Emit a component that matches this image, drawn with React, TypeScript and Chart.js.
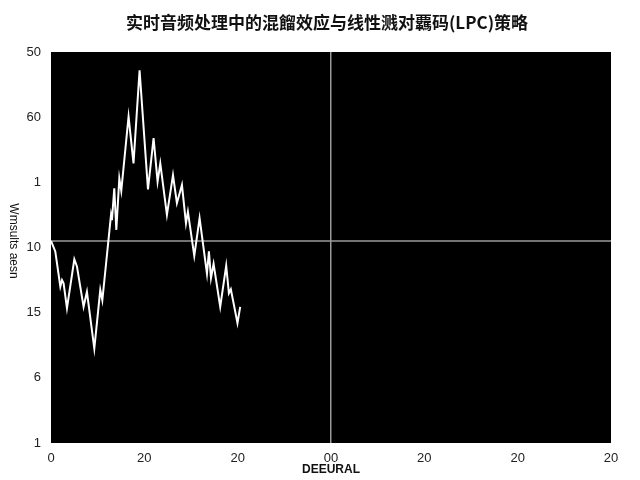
import { useEffect, useRef } from "react";
import { Chart, registerables } from "chart.js";

Chart.register(...registerables);

const chartTitle = "实时音频处理中的混餾效应与线性溅对覊码(LPC)策略";
const xAxisTitle = "DEEURAL";
const yAxisTitle = "Wmsults aesn";

// tick labels as printed, left to right / bottom to top
const xTickLabels = ["0", "20", "20", "00", "20", "20", "20"];
const yTickLabels = ["1", "6", "15", "10", "1", "60", "50"];

// signal trace
const signalX = [
  0, 0.46, 1.0, 1.18, 1.35, 1.71, 2.5, 2.78, 3.49, 3.85, 4.64, 5.28, 5.5, 6.43,
  6.53, 6.78, 7.0, 7.32, 7.53, 8.31, 8.84, 9.49, 10.39, 10.99, 11.42, 11.71,
  12.42, 13.07, 13.49, 14.03, 14.46, 14.67, 15.35, 15.92, 16.71, 16.92, 17.14,
  17.42, 18.13, 18.77, 19.06, 19.27, 19.98, 20.27,
];
const signalY = [
  31.0, 29.4, 24.0, 25.0, 24.5, 20.7, 28.2, 27.1, 20.9, 23.2, 14.5, 23.5, 21.9,
  35.0, 34.2, 39.1, 32.7, 40.6, 38.7, 50.1, 42.9, 57.2, 38.9, 46.8, 40.1, 42.9,
  35.0, 41.1, 36.8, 39.6, 33.7, 35.5, 28.7, 34.5, 26.0, 29.4, 25.3, 27.5, 20.9,
  27.2, 23.0, 23.6, 18.4, 20.9,
];

// horizontal reference level
const baselineY = 31;

const plotBackground = {
  id: "plotBackground",
  beforeDraw(chart: Chart) {
    const { ctx, chartArea } = chart;
    ctx.save();
    ctx.fillStyle = "#000";
    ctx.fillRect(chartArea.left, chartArea.top, chartArea.right - chartArea.left, chartArea.bottom - chartArea.top);
    ctx.restore();
  },
};

const titles = {
  id: "titles",
  afterDraw(chart: Chart) {
    const { ctx, chartArea } = chart;
    ctx.save();
    ctx.fillStyle = "#111";
    ctx.textAlign = "center";
    ctx.textBaseline = "middle";
    ctx.font = "bold 17px 'Noto Sans CJK SC', 'Noto Sans', sans-serif";
    ctx.fillText(chartTitle, 327, 23);

    ctx.font = "bold 12px 'Liberation Sans', Arial, sans-serif";
    ctx.fillText(xAxisTitle, (chartArea.left + chartArea.right) / 2, 470);

    // y title reads top to bottom
    ctx.translate(13, 241);
    ctx.rotate(Math.PI / 2);
    ctx.font = "12px 'Liberation Sans', Arial, sans-serif";
    ctx.fillText(yAxisTitle, 0, 0);
    ctx.restore();
  },
};

export default function App() {
  const chartRef = useRef<HTMLCanvasElement>(null);
  const chartInstance = useRef<Chart | null>(null);

  useEffect(() => {
    if (!chartRef.current) return;
    if (chartInstance.current) chartInstance.current.destroy();

    const ctx = chartRef.current.getContext("2d");
    if (!ctx) return;

    const tickFont = { family: "'Liberation Sans', Arial, sans-serif", size: 13 };

    chartInstance.current = new Chart(ctx, {
      type: "line",
      data: {
        datasets: [
          {
            label: "signal",
            data: signalX.map((x, i) => ({ x, y: signalY[i] })),
            borderColor: "#fff",
            borderWidth: 2,
            pointRadius: 0,
            tension: 0,
          },
          {
            label: "baseline",
            data: [
              { x: 0, y: baselineY },
              { x: 60, y: baselineY },
            ],
            borderColor: "#9a9a9a",
            borderWidth: 1.5,
            pointRadius: 0,
          },
        ],
      },
      options: {
        animation: false,
        responsive: true,
        maintainAspectRatio: false,
        layout: { padding: { top: 52, right: 29, left: 0, bottom: 0 } },
        plugins: {
          legend: { display: false },
          tooltip: { enabled: false },
        },
        scales: {
          x: {
            type: "linear",
            min: 0,
            max: 60,
            border: { display: false },
            grid: {
              drawTicks: false,
              color: (c: any) => (c.tick && c.tick.value === 30 ? "#9a9a9a" : "transparent"),
              lineWidth: 1.5,
            },
            ticks: {
              stepSize: 10,
              autoSkip: false,
              maxRotation: 0,
              padding: 8,
              color: "#222",
              font: tickFont,
              callback: (_v: any, i: number) => xTickLabels[i],
            },
            afterFit: (scale: any) => {
              scale.height = 37;
            },
          },
          y: {
            type: "linear",
            min: 0,
            max: 60,
            border: { display: false },
            grid: { display: false, drawTicks: false },
            ticks: {
              stepSize: 10,
              autoSkip: false,
              padding: 10,
              color: "#222",
              font: tickFont,
              callback: (_v: any, i: number) => yTickLabels[i],
            },
            afterFit: (scale: any) => {
              scale.width = 51;
            },
          },
        },
      },
      plugins: [plotBackground, titles],
    });

    return () => {
      if (chartInstance.current) {
        chartInstance.current.destroy();
        chartInstance.current = null;
      }
    };
  }, []);

  return (
    <div style={{ position: "fixed", left: 0, top: 0, width: 640, height: 480, background: "#fff" }}>
      <canvas ref={chartRef} />
    </div>
  );
}
